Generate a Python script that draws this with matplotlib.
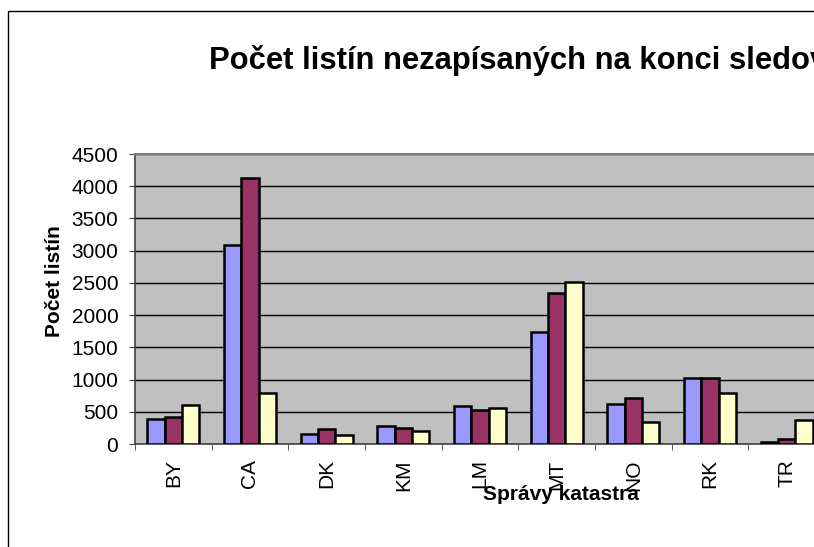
import numpy as np
import matplotlib.pyplot as plt
from matplotlib.patches import Rectangle

# data
kategorie = ['BY', 'CA', 'DK', 'KM', 'LM', 'MT', 'NO', 'RK', 'TR']
rad1 = [390, 3090, 160, 273, 594, 1738, 625, 1029, 36]
rad2 = [420, 4120, 233, 253, 532, 2348, 713, 1018, 77]
rad3 = [605, 795, 140, 202, 553, 2508, 335, 791, 366]
y_ticky = [0, 500, 1000, 1500, 2000, 2500, 3000, 3500, 4000, 4500]

farby = ['#9999FF', '#993366', '#FFFFCC']

W, H = 814, 547
fig = plt.figure(figsize=(W / 100, H / 100), dpi=100)
plt.rcParams['font.family'] = ['Liberation Sans', 'DejaVu Sans']

# outer chart frame (clipped on the right like the reference)
fig.patches.append(Rectangle((8 / W, -0.1), 1.2, (H - 11) / H + 0.1,
                             transform=fig.transFigure, fill=False,
                             edgecolor='black', linewidth=1.0))

# plot area: x 135..825 px (runs past the right edge), y 154..444 px
left, right, top, bottom = 135, 825, 154, 444
ax = fig.add_axes([left / W, 1 - bottom / H, (right - left) / W, (bottom - top) / H])
ax.set_facecolor('#C0C0C0')

x = np.arange(len(kategorie))
sirka = 0.227
for i, (hodnoty, farba) in enumerate(zip([rad1, rad2, rad3], farby)):
    ax.bar(x + (i - 1) * sirka, hodnoty, width=sirka, color=farba,
           edgecolor='black', linewidth=1.8, zorder=3)

ax.set_xlim(-0.5, len(kategorie) - 0.5)
ax.set_ylim(0, 4500)
ax.set_yticks(y_ticky)
ax.set_yticklabels([str(v) for v in y_ticky], fontsize=15)
ax.yaxis.grid(True, color='black', linewidth=1.0, zorder=1)
ax.set_axisbelow(True)

ax.set_xticks(x)
ax.set_xticklabels(kategorie, rotation=90, fontsize=15)
ax.set_xticks(np.arange(len(kategorie) + 1) - 0.5, minor=True)
ax.tick_params(axis='x', which='major', length=0, pad=11)
ax.tick_params(axis='x', which='minor', length=4.5, color='#404040')
ax.tick_params(axis='y', length=4, color='#404040', pad=8)

for s in ['top', 'right']:
    ax.spines[s].set_color('#808080')
    ax.spines[s].set_linewidth(1.5)
for s in ['left', 'bottom']:
    ax.spines[s].set_color('#404040')
    ax.spines[s].set_linewidth(1.2)

# titles
fig.text(209 / W, 1 - 69 / H, 'Počet listín nezapísaných na konci sledovaného obdobia',
         fontsize=22.3, fontweight='bold', ha='left', va='baseline')
fig.text(55 / W, 1 - 281 / H, 'Počet listín', fontsize=15, fontweight='bold',
         rotation=90, ha='center', va='center')
fig.text(561 / W, 1 - 494 / H, 'Správy katastra', fontsize=15, fontweight='bold',
         ha='center', va='center')

fig.savefig('out.png', dpi=100)
